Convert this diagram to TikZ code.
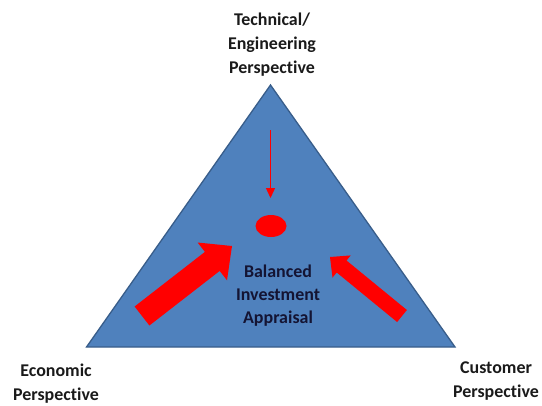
\documentclass[tikz,border=0pt]{standalone}
\usepackage{fontspec}
\setmainfont[Ligatures=NoCommon]{Carlito}
\usetikzlibrary{arrows.meta,shapes.geometric}
\definecolor{triblue}{HTML}{4F81BD}
\definecolor{triedge}{HTML}{385D8A}
\definecolor{labtext}{HTML}{1A1A1A}
\definecolor{midtext}{HTML}{141433}
\tikzset{
  lab/.style={font=\bfseries\fontsize{18}{24}\selectfont, text=labtext, align=center, inner sep=0pt},
  midlab/.style={font=\bfseries\fontsize{18}{23}\selectfont, text=midtext, align=center, inner sep=0pt},
  bigarrow/.style={fill=red, draw=none},
  thinarrow/.style={draw=red, line width=1.4bp, -{Triangle[width=9bp,length=10bp]}},
  tri/.style={fill=triblue, draw=triedge, line width=1.3bp, line join=miter}
}
\begin{document}
\begin{tikzpicture}[x=1bp,y=-1bp]
\useasboundingbox (0,0) rectangle (542,405);
% triangle
\coordinate (A) at (270.5,85);
\coordinate (L) at (86.5,347);
\coordinate (R) at (455,347);
\draw[tri] (A) -- (L) -- (R) -- cycle;
% labels
\node[lab] (tech) at (272,45) {Technical/\\Engineering\\Perspective};
\node[lab] (econ) at (56,384) {Economic\\Perspective};
\node[lab] (cust) at (496,381) {Customer\\Perspective};
\node[midlab] (bal) at (278,296) {Balanced\\Investment\\Appraisal};
% dot and thin arrow
\node[ellipse, fill=red, minimum width=31bp, minimum height=22bp, inner sep=0pt] (dot) at (271,226) {};
\coordinate (tstart) at (270.5,130);
\coordinate (tend) at (270.5,198);
\draw[thinarrow] (tstart) -- (tend);
% left big arrow
\fill[bigarrow] (149.4,325.5) -- (219.7,270.9) -- (227.0,280.3) -- (232,246)
  -- (197.6,242.5) -- (204.9,251.9) -- (134.6,306.5) -- cycle;
% right big arrow
\fill[bigarrow] (406.9,310.0) -- (346.5,260.5) -- (350.7,255.4) -- (330,257)
  -- (332.5,277.6) -- (336.7,272.5) -- (397.1,322.0) -- cycle;
\end{tikzpicture}
\end{document}
